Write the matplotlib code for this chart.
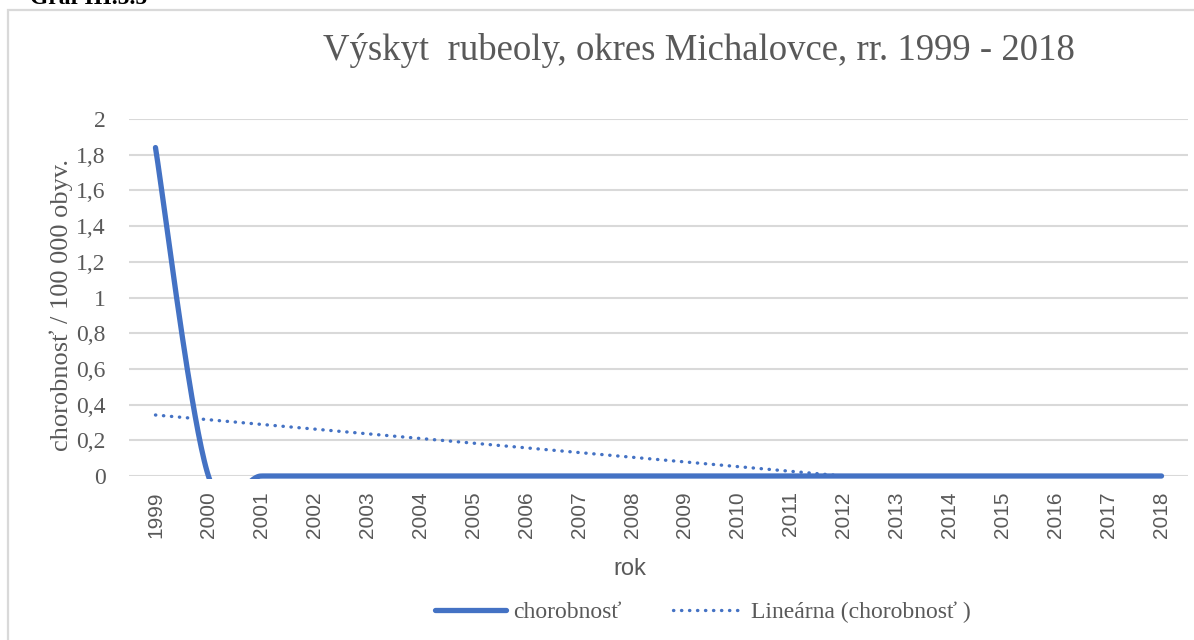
import numpy as np
import matplotlib.pyplot as plt
from matplotlib.patches import Rectangle

# data
years = list(range(1999, 2019))
chorobnost = [1.84] + [0.0] * 19
y_ticks = [0, 0.2, 0.4, 0.6, 0.8, 1.0, 1.2, 1.4, 1.6, 1.8, 2.0]
y_tick_labels = ['0', '0,2', '0,4', '0,6', '0,8', '1', '1,2', '1,4', '1,6', '1,8', '2']

BLUE = '#4472C4'
GRID = '#D9D9D9'
TXT = '#595959'
SERIF = 'Liberation Serif'
SANS = 'Liberation Sans'


def excel_smooth(xs, ys, n=40):
    # bezier smoothing like the "smoothed line" option in Excel
    pts = np.column_stack([xs, ys]).astype(float)
    out = []
    for i in range(len(pts) - 1):
        p0 = pts[i - 1] if i > 0 else pts[i]
        p1, p2 = pts[i], pts[i + 1]
        p3 = pts[i + 2] if i + 2 < len(pts) else pts[i + 1]
        c1 = p1 + (p2 - p0) / 6
        c2 = p2 - (p3 - p1) / 6
        t = np.linspace(0, 1, n)[:, None]
        seg = ((1 - t) ** 3 * p1 + 3 * (1 - t) ** 2 * t * c1
               + 3 * (1 - t) * t ** 2 * c2 + t ** 3 * p2)
        out.append(seg if i == 0 else seg[1:])
    out = np.vstack(out)
    return out[:, 0], out[:, 1]


fig = plt.figure(figsize=(11.94, 6.4), dpi=100)
fig.patches.append(Rectangle((8 / 1194, -0.01), 1.02, 1 - 10 / 640 + 0.01,
                             transform=fig.transFigure, fill=False,
                             edgecolor=GRID, linewidth=1.6))
fig.text(30 / 1194, 1 - 4 / 640, 'Graf III.5.5', family=SERIF, weight='bold',
         fontsize=17, va='baseline', ha='left', color='black')

ax = fig.add_axes([129 / 1194, 1 - 476 / 640, (1188 - 129) / 1194, (476 - 119) / 640])
x = np.arange(len(years))
ax.set_xlim(-0.5, len(years) - 0.5)
ax.set_ylim(0, 2)

for yv in y_ticks:
    ax.axhline(yv, color=GRID, linewidth=1.5, zorder=1)

# linear trend (clipped at the plot area like Excel)
coef = np.polyfit(x, chorobnost, 1)
trend = np.polyval(coef, x)
tl, = ax.plot(x, trend, color=BLUE, linewidth=2.4, linestyle=(0, (0.1, 2.3)),
              dash_capstyle='round', zorder=2, label='Lineárna (chorobnosť )')

# smoothed series, clip slightly below zero so the zero line keeps full width
clip = Rectangle((0, -0.008), 1, 1.02, transform=ax.transAxes)
sx, sy = excel_smooth(x, chorobnost)
ml, = ax.plot(sx, sy, color=BLUE, linewidth=3.8, solid_capstyle='round',
              zorder=3, label='chorobnosť')
ml.set_clip_path(clip)

for s in ax.spines.values():
    s.set_visible(False)

ax.set_yticks(y_ticks)
ax.set_yticklabels(y_tick_labels, family=SERIF, fontsize=17, color=TXT)
ax.set_xticks(x)
ax.set_xticklabels([str(y) for y in years], rotation=90, family=SANS,
                   fontsize=15, color=TXT)
ax.tick_params(axis='y', length=0, pad=17)
ax.tick_params(axis='x', length=0, pad=11)

ax.set_ylabel('chorobnosť / 100 000 obyv.', family=SERIF, fontsize=19, color=TXT)
ax.yaxis.set_label_coords((73 - 129) / 1059, 0.48)
ax.set_xlabel('rok', family=SANS, fontsize=17, color=TXT)
ax.xaxis.set_label_coords((630 - 129) / 1059, -(558 - 476) / 357)

fig.text(699 / 1194, 1 - 50 / 640, 'Výskyt  rubeoly, okres Michalovce, rr. 1999 - 2018',
         family=SERIF, fontsize=26.5, color=TXT, ha='center', va='center')

handles = [ml, tl]
fig.legend(handles, [h.get_label() for h in handles], loc='center',
           bbox_to_anchor=(703 / 1194, 1 - 612 / 640), ncol=2, frameon=False,
           prop={'family': SERIF, 'size': 17}, labelcolor=TXT,
           handlelength=3.0, columnspacing=2.2, handletextpad=0.3)

fig.savefig('out.png', dpi=100)
